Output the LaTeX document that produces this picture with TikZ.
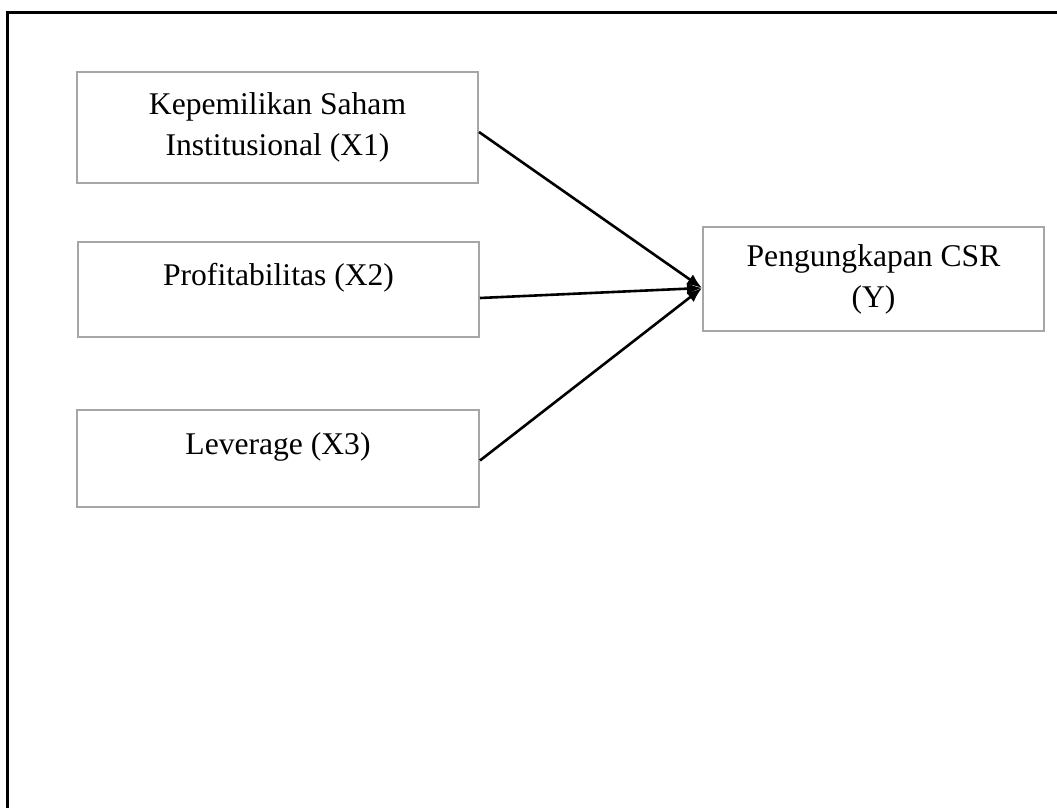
\documentclass[tikz,border=0pt]{standalone}
\usepackage{fontspec}
\setmainfont{Liberation Serif}
\usetikzlibrary{arrows.meta}
\begin{document}
\begin{tikzpicture}[x=0.5pt,y=-0.5pt,
    varbox/.style={draw=black!35, line width=1pt, align=center, inner sep=0pt,
      font=\fontsize{15.8}{20.5}\selectfont},
    arr/.style={-{Latex[length=7.5pt,width=6pt]}, line width=1.3pt}]
   % Fix page size
   \useasboundingbox (0,0) rectangle (1057,808);

   % Draw frame (open at right and bottom)
   \draw[line width=1.5pt] (7,808) -- (7,13) -- (1057,13);

   % Independent variables
   \node[varbox, minimum width=200.5pt, minimum height=55.5pt] (x1) at (277.5,127.5) {Kepemilikan Saham\\Institusional (X1)};
   \node[varbox, minimum width=200.5pt, minimum height=47.5pt] (x2) at (278.5,289.5) {Profitabilitas (X2)\\[-12pt]\strut};
   \node[varbox, minimum width=201pt, minimum height=48.5pt] (x3) at (278,458.5) {Leverage (X3)\\[-12pt]\strut};

   % Dependent variable
   \node[varbox, minimum width=170.5pt, minimum height=52pt] (y) at (873.5,279) {Pengungkapan CSR\\(Y)};

   % Draw arrows into Y
   \draw[arr] ([yshift=-2.25pt]x1.east) -- ([yshift=-4.5pt]y.west);
   \draw[arr] ([yshift=-4.25pt]x2.east) -- ([yshift=-4.5pt]y.west);
   \draw[arr] ([yshift=-1pt]x3.east) -- ([yshift=-4.5pt]y.west);

\end{tikzpicture}
\end{document}
